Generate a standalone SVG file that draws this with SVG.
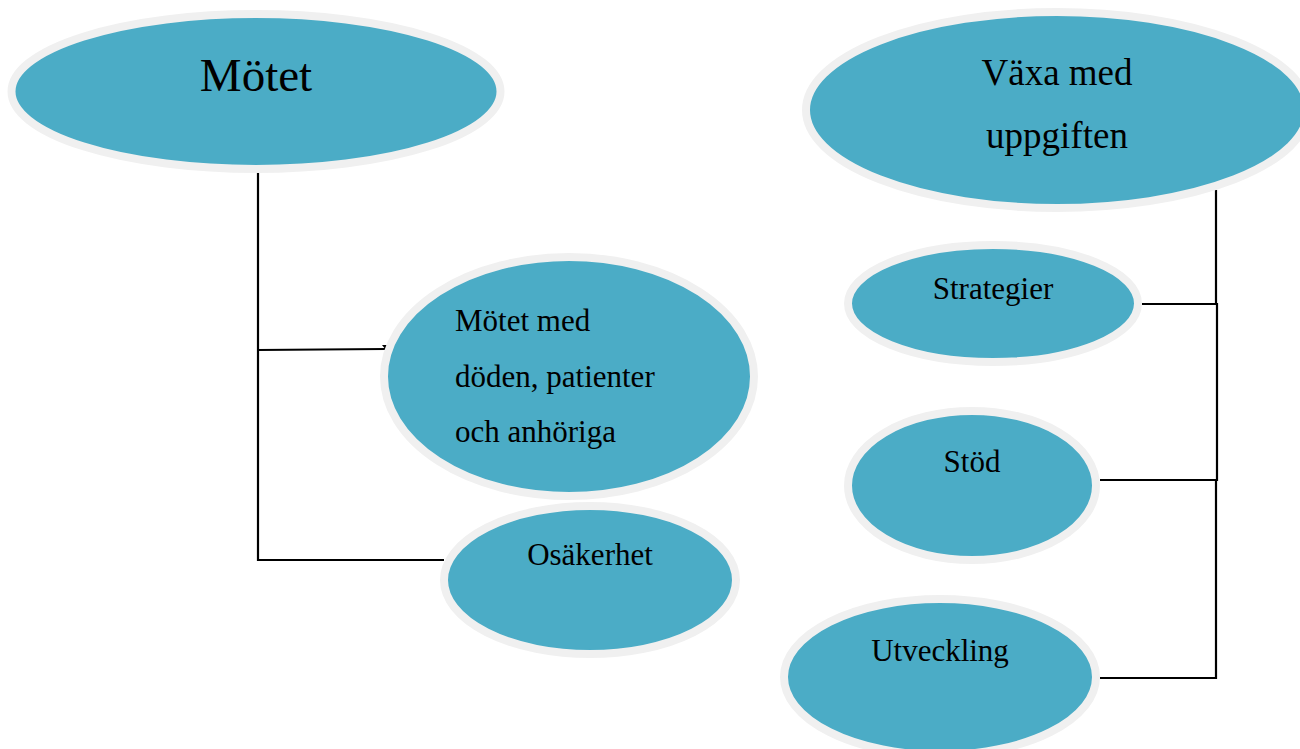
<svg xmlns="http://www.w3.org/2000/svg" width="1300" height="749" viewBox="0 0 1300 749">
<style>
.n{fill:#4BACC6;stroke:#F0F0F0;stroke-width:8}
.t{font-family:"Liberation Serif","Times New Roman",serif;fill:#000}
.c{fill:none;stroke:#000;stroke-width:2.2}
</style>
<rect width="1300" height="749" fill="#fff"/>
<g id="connectors">
<path class="c" d="M258 170 V560 H444"/>
<path class="c" d="M258 350 L385 349"/>
<polygon points="382,345 388,345 386,350" fill="#000"/>
<path class="c" d="M1216 190 V304 H1142"/>
<path class="c" d="M1216 304 H1217 V480 H1100"/>
<path class="c" d="M1216 480 V678 H1100"/>
</g>
<g id="motet">
<ellipse class="n" cx="256" cy="91.5" rx="244.5" ry="77.5"/>
<text class="t" x="256" y="91" font-size="47" text-anchor="middle">Mötet</text>
</g>
<g id="vaxa">
<ellipse class="n" cx="1057" cy="110" rx="251" ry="98"/>
<text class="t" x="1057" y="85" font-size="37" text-anchor="middle">Växa med</text>
<text class="t" x="1057" y="148" font-size="37" text-anchor="middle">uppgiften</text>
</g>
<g id="motet-med-doden">
<ellipse class="n" cx="569" cy="376.5" rx="185" ry="119.5"/>
<text class="t" x="455" y="331" font-size="31">Mötet med</text>
<text class="t" x="455" y="387" font-size="31">döden, patienter</text>
<text class="t" x="455" y="442" font-size="31">och anhöriga</text>
</g>
<g id="osakerhet">
<ellipse class="n" cx="590" cy="580" rx="146" ry="74"/>
<text class="t" x="590" y="565" font-size="31" text-anchor="middle">Osäkerhet</text>
</g>
<g id="strategier">
<ellipse class="n" cx="993" cy="303.5" rx="145" ry="58.5"/>
<text class="t" x="993" y="299" font-size="31" text-anchor="middle">Strategier</text>
</g>
<g id="stod">
<ellipse class="n" cx="972" cy="485.5" rx="124" ry="74.5"/>
<text class="t" x="972" y="472" font-size="31" text-anchor="middle">Stöd</text>
</g>
<g id="utveckling">
<ellipse class="n" cx="940" cy="677" rx="156" ry="78"/>
<text class="t" x="940" y="661" font-size="31" text-anchor="middle">Utveckling</text>
</g>
</svg>
